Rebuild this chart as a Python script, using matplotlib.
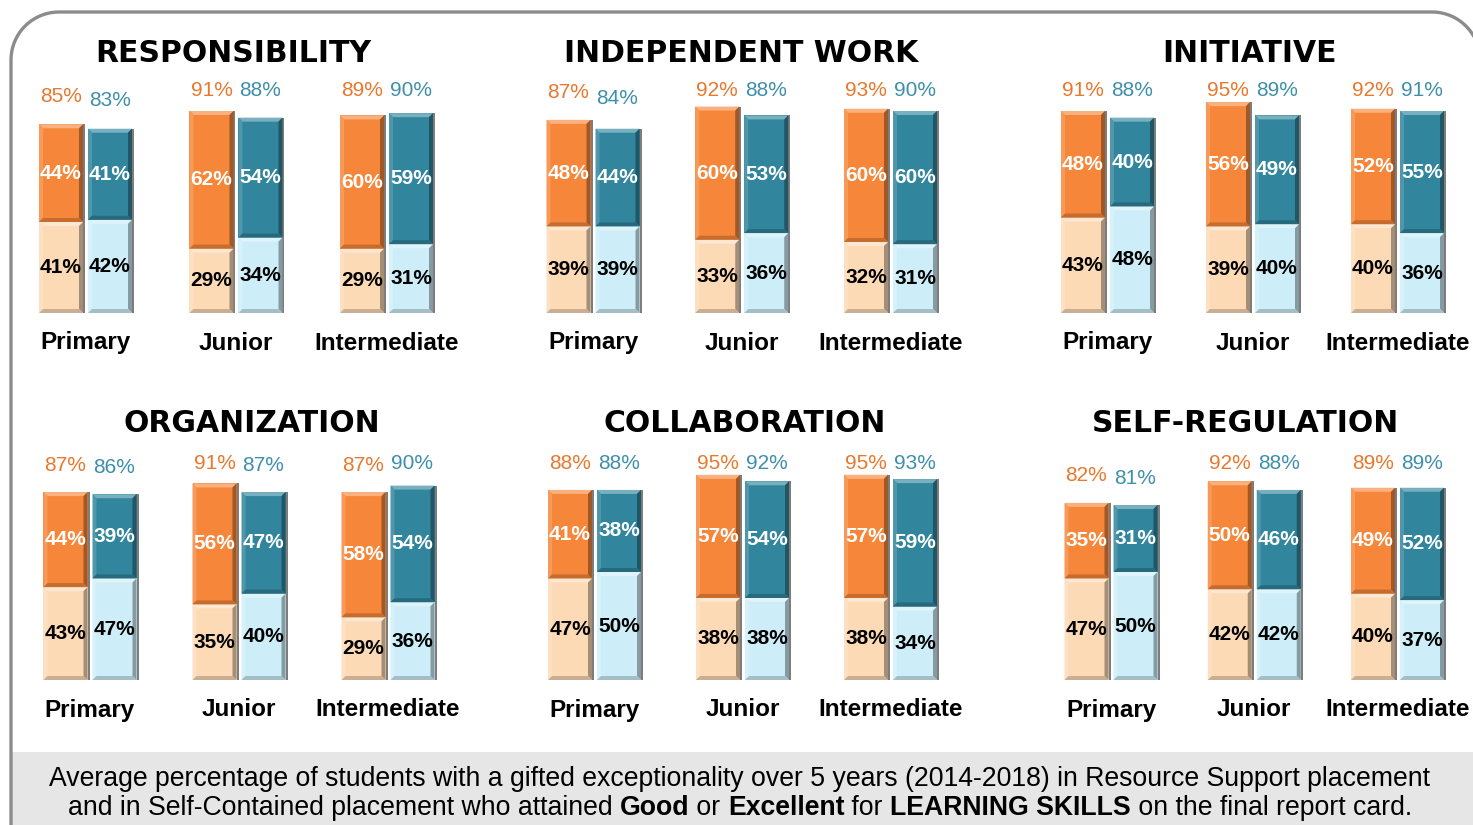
import numpy as np
import matplotlib
matplotlib.use('Agg')
from matplotlib import pyplot as plt
from matplotlib.patches import Polygon, Rectangle
from matplotlib.colors import to_rgb

plt.rcParams['font.family'] = ['Liberation Sans', 'DejaVu Sans']

levels = ['Primary', 'Junior', 'Intermediate']
skills = ['RESPONSIBILITY', 'INDEPENDENT WORK', 'INITIATIVE',
          'ORGANIZATION', 'COLLABORATION', 'SELF-REGULATION']

# Resource Support placement (orange): Good / Excellent / total
rs_good = [[41, 29, 29], [39, 33, 32], [43, 39, 40],
           [43, 35, 29], [47, 38, 38], [47, 42, 40]]
rs_exc = [[44, 62, 60], [48, 60, 60], [48, 56, 52],
          [44, 56, 58], [41, 57, 57], [35, 50, 49]]
rs_total = [[85, 91, 89], [87, 92, 93], [91, 95, 92],
            [87, 91, 87], [88, 95, 95], [82, 92, 89]]

# Self-Contained placement (teal): Good / Excellent / total
sc_good = [[42, 34, 31], [39, 36, 31], [48, 40, 36],
           [47, 40, 36], [50, 38, 34], [50, 42, 37]]
sc_exc = [[41, 54, 59], [44, 53, 60], [40, 49, 55],
          [39, 47, 54], [38, 54, 59], [31, 46, 52]]
sc_total = [[83, 88, 90], [84, 88, 90], [88, 89, 91],
            [86, 87, 90], [88, 92, 93], [81, 88, 89]]

# colours
OR_DARK, OR_LIGHT, OR_TXT = '#F6873A', '#FDDAB6', '#E8782D'
TL_DARK, TL_LIGHT, TL_TXT = '#31859C', '#CDEEF8', '#3E8FAA'

W, H = 1473, 825
fig = plt.figure(figsize=(W / 100, H / 100), dpi=100)

# background axes in pixel units (y measured from the top)
bg = fig.add_axes([0, 0, 1, 1], zorder=-1)
bg.set_xlim(0, W)
bg.set_ylim(H, 0)
bg.axis('off')
bg.add_patch(Rectangle((11, 752), W, H - 752, facecolor='#E6E6E6', edgecolor='none'))

# rounded frame: left edge, top-left corner, top edge, top-right corner
R = 48
a1 = np.linspace(np.pi, 1.5 * np.pi, 30)
a2 = np.linspace(1.5 * np.pi, 2 * np.pi, 30)
fx = np.concatenate([[11], 11 + R + R * np.cos(a1), 1480 - R + R * np.cos(a2)])
fy = np.concatenate([[H + 5], 12 + R + R * np.sin(a1), 12 + R + R * np.sin(a2)])
bg.plot(fx, fy, color='#8C8C8C', lw=2.4, solid_capstyle='butt')

# pixel layout: group centres, bar-bottom y, px per %, title position
layout = [
    ([85.5, 236.5, 386.5], 313, 2.22, 233, 54),
    ([593, 742.5, 890.5], 313, 2.22, 741, 54),
    ([1107.5, 1252, 1397.5], 313, 2.22, 1250, 54),
    ([90, 239, 388], 680, 2.16, 252, 424),
    ([594.5, 742.5, 890.5], 680, 2.16, 745, 424),
    ([1111, 1254.5, 1397.5], 680, 2.16, 1245, 424),
]


def shade(c, f):
    r = np.array(to_rgb(c))
    if f > 0:
        return tuple(r + (1 - r) * f)
    return tuple(r * (1 + f))


def bevel(ax, patch, color, dx, dy):
    x0, y0 = patch.get_x(), patch.get_y()
    x1, y1 = x0 + patch.get_width(), y0 + patch.get_height()
    polys = [
        ([(x0, y1), (x1, y1), (x1 - dx, y1 - dy), (x0 + dx, y1 - dy)], shade(color, 0.35)),
        ([(x0, y0), (x0, y1), (x0 + dx, y1 - dy), (x0 + dx, y0 + dy)], shade(color, 0.15)),
        ([(x1, y0), (x1, y1), (x1 - dx, y1 - dy), (x1 - dx, y0 + dy)], shade(color, -0.35)),
        ([(x0, y0), (x1, y0), (x1 - dx, y0 + dy), (x0 + dx, y0 + dy)], shade(color, -0.2)),
    ]
    for pts, c in polys:
        ax.add_patch(Polygon(pts, closed=True, facecolor=c, edgecolor='none', zorder=3))
    ax.add_patch(Rectangle((x1, y0), dx * 0.5, y1 - y0, facecolor=(0.15, 0.15, 0.15, 0.6),
                           edgecolor='none', zorder=2, clip_on=False))


for k, (centres, bot, scale, tx, ty) in enumerate(layout):
    s = (centres[2] - centres[0]) / 2.0
    left = (centres[0] - s / 2) / W
    ax = fig.add_axes([left, (H - bot) / H, 3 * s / W, 100 * scale / H])
    ax.set_xlim(-0.5, 2.5)
    ax.set_ylim(0, 100)
    ax.axis('off')

    x = np.arange(3)
    bw = 44 / s
    off = 24.5 / s
    dx = 4 / s
    dy = 4 / scale

    groups = [
        (x - off, rs_good[k], rs_exc[k], rs_total[k], OR_LIGHT, OR_DARK, OR_TXT),
        (x + off, sc_good[k], sc_exc[k], sc_total[k], TL_LIGHT, TL_DARK, TL_TXT),
    ]
    for xs, good, exc, tot, lc, dc, tc in groups:
        b1 = ax.bar(xs, good, bw, color=lc, zorder=2)
        b2 = ax.bar(xs, exc, bw, bottom=good, color=dc, zorder=2)
        for p in b1:
            bevel(ax, p, lc, dx, dy)
        for p in b2:
            bevel(ax, p, dc, dx, dy)
        for xi, g, e, t in zip(xs, good, exc, tot):
            ax.text(xi, g / 2, f'{g}%', ha='center', va='center', fontsize=15,
                    fontweight='bold', color='black', zorder=5)
            ax.text(xi, g + e / 2, f'{e}%', ha='center', va='center', fontsize=15,
                    fontweight='bold', color='white', zorder=5)
            ax.text(xi, min(t + 12.5, 100), f'{t}%', ha='center', va='center',
                    fontsize=15, color=tc, clip_on=False)

    for xi, lab in zip(x, levels):
        ax.text(xi, -30 / scale, lab, ha='center', va='center', fontsize=17.5,
                fontweight='bold', color='black', clip_on=False)

    fig.text(tx / W, 1 - ty / H, skills[k], ha='center', va='center',
             fontsize=21.5, fontweight='bold', family='DejaVu Sans', color='black')

fs = 19.2
line1 = ('Average percentage of students with a gifted exceptionality over 5 years '
         '(2014-2018) in Resource Support placement')
fig.text(740 / W, 1 - 779 / H, line1, ha='center', va='center', fontsize=fs)

pieces = [('and in Self-Contained placement who attained ', 'normal'),
          ('Good', 'bold'), (' or ', 'normal'), ('Excellent', 'bold'),
          (' for ', 'normal'), ('LEARNING SKILLS', 'bold'),
          (' on the final report card.', 'normal')]
renderer = fig.canvas.get_renderer()


def piece_width(txt, weight):
    t1 = fig.text(0, 0, '|' + txt + '|', fontsize=fs, fontweight=weight)
    t2 = fig.text(0, 0, '||', fontsize=fs, fontweight=weight)
    w = t1.get_window_extent(renderer).width - t2.get_window_extent(renderer).width
    t1.remove()
    t2.remove()
    return w


widths = [piece_width(t, w) for t, w in pieces]
xpos = 740 - sum(widths) / 2
for (t, w), wd in zip(pieces, widths):
    fig.text(xpos / W, 1 - 808 / H, t, ha='left', va='center', fontsize=fs, fontweight=w)
    xpos += wd

fig.savefig('out.png', dpi=100)
